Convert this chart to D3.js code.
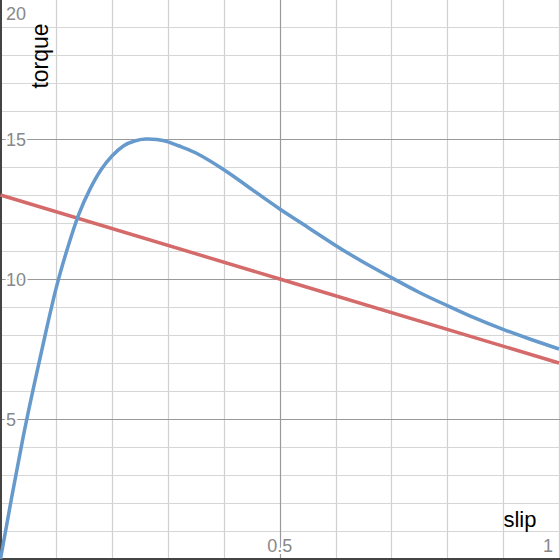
<!DOCTYPE html>
<html>
<head>
<meta charset="utf-8">
<script src="https://cdn.jsdelivr.net/npm/d3@7"></script>
<style>
  body { margin: 0; background: #fff; }
  svg { display: block; }
  text { font-family: "Liberation Sans", Arial, sans-serif; }
</style>
</head>
<body>
<div id="chart"></div>
<script>
let width = 560,
    height = 560;

// slip values (x) and torque readings for the blue curve
let slip = [0, 0.02, 0.04, 0.06, 0.08, 0.10, 0.12, 0.14, 0.16, 0.18, 0.20, 0.22, 0.24, 0.26, 0.28,
            0.30, 0.32, 0.35, 0.40, 0.45, 0.50, 0.55, 0.60, 0.65, 0.70, 0.75, 0.80, 0.85, 0.90, 0.95, 1.00];
let torque = [0, 2.2, 4.3, 6.2, 8.0, 9.7, 11.1, 12.3, 13.2, 13.9, 14.4, 14.75, 14.93, 15.0, 14.98,
              14.9, 14.75, 14.5, 13.9, 13.2, 12.5, 11.85, 11.2, 10.6, 10.05, 9.52, 9.05, 8.6, 8.2, 7.84, 7.5];

// red load line
let loadSlip = [0, 0.5, 1.0];
let loadTorque = [13, 10, 7];

let xTicks = [0.5, 1];
let xTickLabels = ["0.5", "1"];
let yTicks = [5, 10, 15, 20];
let yTickLabels = ["5", "10", "15", "20"];

let x = d3.scaleLinear().domain([0, 1]).range([0.5, 559]);
let y = d3.scaleLinear().domain([0, 20]).range([559, -1]);

let svg = d3.select("#chart")
    .append("svg")
    .attr("width", width)
    .attr("height", height);

// grid
let minorX = d3.range(0.1, 1.001, 0.1).filter(v => Math.abs(v - 0.5) > 1e-6);
let minorY = d3.range(1, 20.001, 1).filter(v => v % 5 !== 0);

let grid = svg.append("g").attr("class", "grid");

grid.selectAll("line.vminor")
    .data(minorX)
    .enter().append("line")
    .attr("x1", d => Math.round(x(d)) + 0.5)
    .attr("x2", d => Math.round(x(d)) + 0.5)
    .attr("y1", 0).attr("y2", height)
    .attr("stroke", "#d0d0d0").attr("stroke-width", 1.2);

grid.selectAll("line.hminor")
    .data(minorY)
    .enter().append("line")
    .attr("y1", d => Math.round(y(d)) + 0.5)
    .attr("y2", d => Math.round(y(d)) + 0.5)
    .attr("x1", 0).attr("x2", width)
    .attr("stroke", "#d6d6d6").attr("stroke-width", 1.2);

grid.selectAll("line.vmajor")
    .data([0.5])
    .enter().append("line")
    .attr("x1", d => Math.round(x(d)) + 0.5)
    .attr("x2", d => Math.round(x(d)) + 0.5)
    .attr("y1", 0).attr("y2", height)
    .attr("stroke", "#999").attr("stroke-width", 1.2);

grid.selectAll("line.hmajor")
    .data([5, 10, 15])
    .enter().append("line")
    .attr("y1", d => Math.round(y(d)) + 0.5)
    .attr("y2", d => Math.round(y(d)) + 0.5)
    .attr("x1", 0).attr("x2", width)
    .attr("stroke", "#999").attr("stroke-width", 1.2);

// axes lines
svg.append("line")
    .attr("x1", 1).attr("x2", 1)
    .attr("y1", 0).attr("y2", height)
    .attr("stroke", "#444").attr("stroke-width", 2);
svg.append("line")
    .attr("x1", 0).attr("x2", width)
    .attr("y1", 559).attr("y2", 559)
    .attr("stroke", "#444").attr("stroke-width", 2);

// curves
let line = d3.line()
    .x(d => x(d[0]))
    .y(d => y(d[1]));

svg.append("path")
    .datum(loadSlip.map((s, i) => [s, loadTorque[i]]))
    .attr("d", line)
    .attr("fill", "none")
    .attr("stroke", "#d46a69")
    .attr("stroke-width", 3.5);

svg.append("path")
    .datum(slip.map((s, i) => [s, torque[i]]))
    .attr("d", line.curve(d3.curveNatural))
    .attr("fill", "none")
    .attr("stroke", "#6699cc")
    .attr("stroke-width", 3.5);

// tick labels
let labelStyle = sel => sel
    .attr("fill", "#888")
    .attr("font-size", 18)
    .attr("stroke", "#fff")
    .attr("stroke-width", 4)
    .attr("paint-order", "stroke");

svg.selectAll("text.ytick")
    .data(yTicks)
    .enter().append("text")
    .attr("class", "ytick")
    .attr("x", 6)
    .attr("y", d => d === 20 ? 20 : y(d) + 6.5)
    .text((d, i) => yTickLabels[i])
    .call(labelStyle);

svg.selectAll("text.xtick")
    .data(xTicks)
    .enter().append("text")
    .attr("class", "xtick")
    .attr("x", d => d === 1 ? x(d) - 6 : x(d))
    .attr("y", 552)
    .attr("text-anchor", d => d === 1 ? "end" : "middle")
    .text((d, i) => xTickLabels[i])
    .call(labelStyle);

// axis titles
svg.append("text")
    .attr("transform", "translate(48,56) rotate(-90)")
    .attr("text-anchor", "middle")
    .attr("font-size", 23)
    .attr("fill", "#000")
    .text("torque");

svg.append("text")
    .attr("x", 520)
    .attr("y", 527)
    .attr("text-anchor", "middle")
    .attr("font-size", 22)
    .attr("fill", "#000")
    .text("slip");
</script>
</body>
</html>
